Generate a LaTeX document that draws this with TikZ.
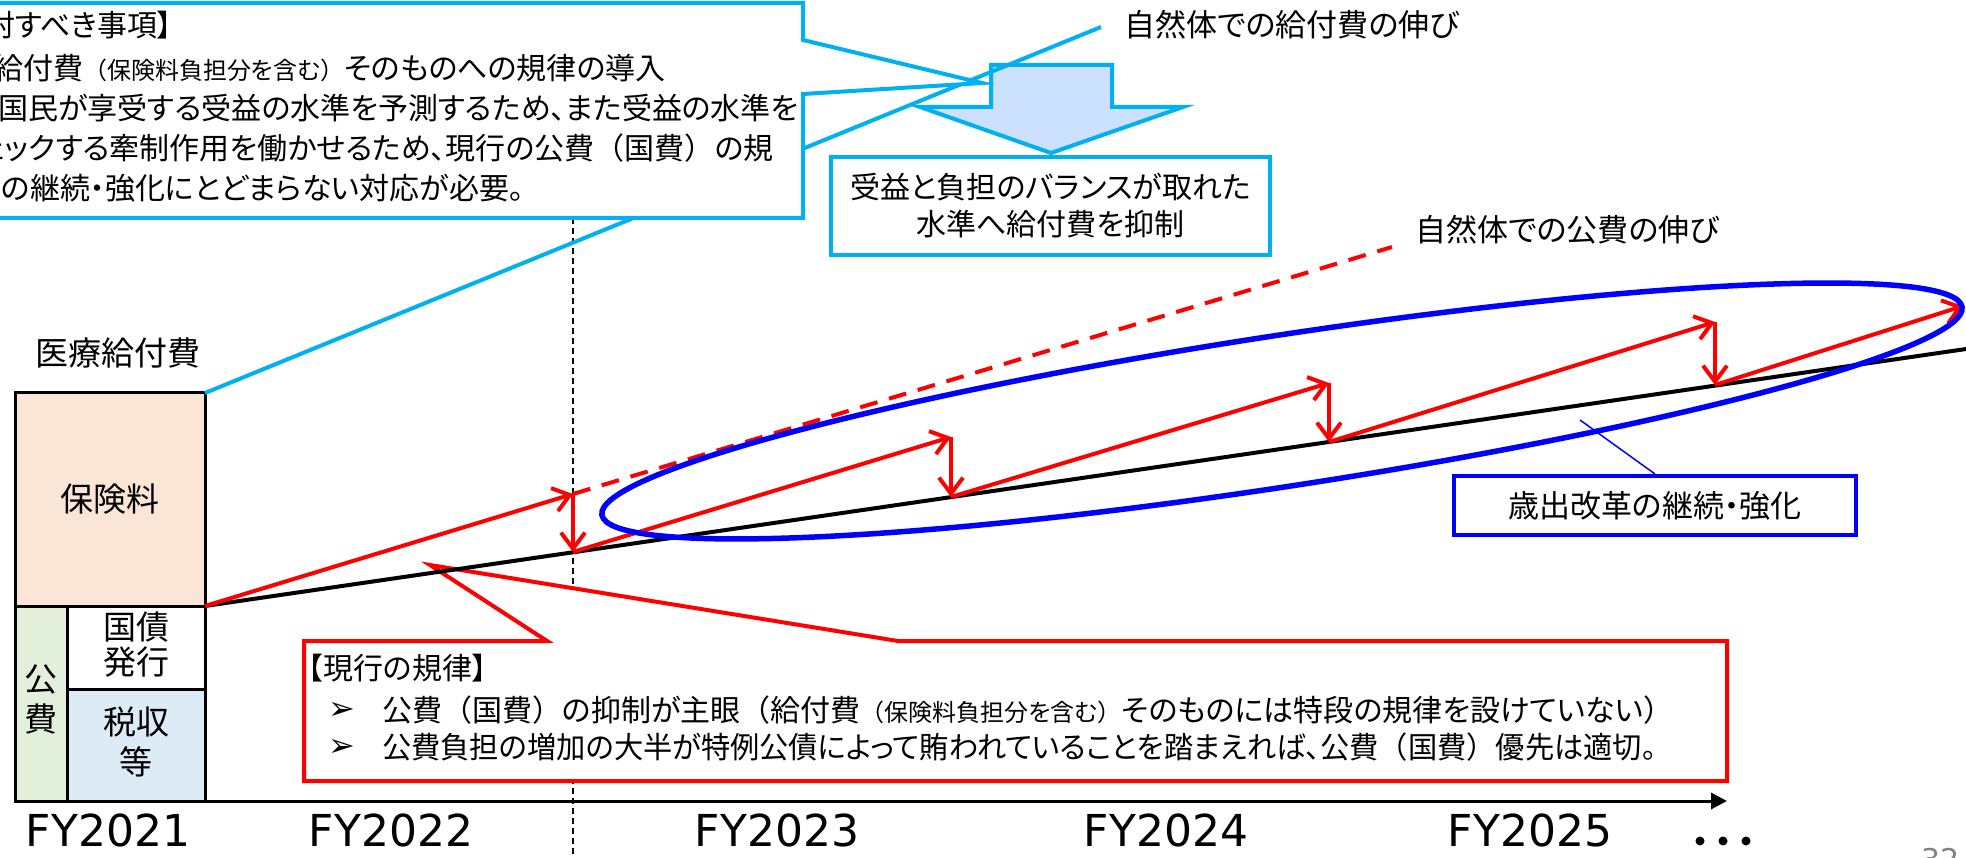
\documentclass[tikz,border=0pt]{standalone}
\usepackage{fontspec}
\setmainfont{Noto Sans CJK JP}[RawFeature=+palt]
\newfontfamily\jpfull{Noto Sans CJK JP}
\newfontfamily\dejavu{DejaVu Sans}
\usetikzlibrary{arrows.meta}
\definecolor{cyanb}{HTML}{00B0F0}
\definecolor{peach}{HTML}{FBE5D6}
\definecolor{lgreen}{HTML}{E2EFDA}
\definecolor{lblue}{HTML}{DDEBF7}
\definecolor{afill}{HTML}{CCE0FF}
\definecolor{pgray}{HTML}{808080}
\newcommand{\jfs}[2]{\fontsize{#1pt}{#2pt}\selectfont}
\newcommand{\jlp}{{\jpfull （}}
\newcommand{\jrp}{{\jpfull ）}}
\newcommand{\smallpar}{{\jfs{24}{34}\jlp 保険料負担分を含む\jrp}}
\begin{document}
\begin{tikzpicture}[x=1pt,y=-1pt,
  txt/.style={inner sep=0pt, font=\jfs{30}{36}},
  lbl/.style={inner sep=0pt, font=\jfs{33}{40}, align=center},
  fy/.style={inner sep=0pt, font=\dejavu\jfs{44}{50}},
  bx/.style={draw=black, line width=3pt, inner sep=0pt, outer sep=0pt, anchor=north west},
  redarr/.style={draw=red, line width=4pt, -{Straight Barb[length=16pt,width=24pt]}},
  bul/.style={inner sep=0pt, font=\dejavu\jfs{32}{36}},
]
\useasboundingbox (0,0) rectangle (1966,858);

% vertical dashed divider
\coordinate (vtop) at (573,218);
\coordinate (vbot) at (573,858);
\draw[line width=1.2pt, dash pattern=on 6pt off 4pt] (vtop) -- (vbot);

% big down arrow
\draw[cyanb, line width=4pt, fill=afill, line join=miter]
  (991,65) -- (1112,65) -- (1112,107) -- (1183,107) -- (1051,153) -- (920,107) -- (991,107) -- cycle;

% central box
\node[draw=cyanb, line width=4pt, fill=white, minimum width=439pt, minimum height=98pt,
      inner sep=0pt, align=center, font=\jfs{30}{37}] (bal) at (1050.5,206)
      {受益と負担のバランスが取れた\\水準へ給付費を抑制};

% label of natural growth of benefits
\node[inner sep=0pt, anchor=west, font=\jfs{31}{36}] (gl) at (1124,25) {自然体での給付費の伸び};

% left stacked boxes
\node[lbl] (title) at (118,353) {医療給付費};
\node[bx, fill=peach, minimum width=190pt, minimum height=213pt] (hoken) at (15,393) {};
\node[lbl] at (hoken.center) {保険料};
\node[bx, fill=lgreen, minimum width=52pt, minimum height=195pt] (kohi) at (15,606) {};
\node[lbl] at ([yshift=4pt]kohi.center) {公\\費};
\node[bx, fill=white, minimum width=138pt, minimum height=83pt] (kokusai) at (67,606) {};
\node[lbl, font=\jfs{33}{35}] at ([yshift=3pt]kokusai.center) {国債\\発行};
\node[bx, fill=lblue, minimum width=138pt, minimum height=112pt] (zei) at (67,689) {};
\node[lbl] at ([yshift=3pt]zei.center) {税収\\等};

% cyan connector from box to label
\draw[cyanb, line width=4pt] (hoken.north east) -- ([xshift=-23pt,yshift=-2pt]gl.west);

% cyan callout
\coordinate (ctip) at (982,83);
\draw[cyanb, line width=4pt, fill=white, line join=miter]
  (-60,3) -- (803,3) -- (803,40) -- (ctip) -- (803,94) -- (803,218) -- (-60,218) -- cycle;
\node[txt, anchor=west] (c1) at (15,25) {\llap{【今後検討}すべき事項】};
\node[txt, anchor=west] (c2) at (23,68) {\llap{給}付費\smallpar そのものへの規律の導入};
\node[txt, anchor=west] (c3) at (-2,108) {国民が享受する受益の水準を予測するため、また受益の水準を};
\node[txt, anchor=west] (c4) at (5,148) {\llap{チェ}ックする牽制作用を働かせるため、現行の公費\jlp 国費\jrp の規};
\node[txt, anchor=west] (c5) at (1,188) {\llap{律}の継続・強化にとどまらない対応が必要。};

% red callout
\coordinate (rtip) at (430,565);
\draw[red, line width=4pt, fill=white, line join=miter]
  (304,641) -- (547,641) -- (rtip) -- (898,641) -- (1727,641) -- (1727,781) -- (304,781) -- cycle;
\node[txt, anchor=west] (r0) at (308,668) {【現行の規律】};
\node[bul] (b1) at (342,711) {➢};
\node[txt, anchor=west] (r1) at (382,710) {公費\jlp 国費\jrp の抑制が主眼\jlp 給付費\smallpar そのものには特段の規律を設けていない\jrp};
\node[bul] (b2) at (342,748) {➢};
\node[txt, anchor=west] (r2) at (382,747) {\scalebox{0.975}[1]{公費負担の増加の大半が特例公債によって賄われていることを踏まえれば、公費\jlp 国費\jrp 優先は適切。}};

% growth points
\coordinate (b0) at (hoken.south east);
\coordinate (bend) at (1966,349);
\coordinate (t1) at (573,494);
\coordinate (q1) at (573,552);
\coordinate (t2) at (951,437);
\coordinate (q2) at (951,497);
\coordinate (t3) at (1329,383);
\coordinate (q3) at (1329,442);
\coordinate (t4) at (1715,322);
\coordinate (q4) at (1715,385);
\coordinate (t5) at (1963,306);
\coordinate (dend) at (1392,247);

% natural public expense (dashed)
\draw[red, line width=4pt, dash pattern=on 18pt off 12pt] (t1) -- (dend);
\node[inner sep=0pt, anchor=west, font=\jfs{31}{36}] (pl) at (1415,230) {自然体での公費の伸び};

% baseline
\draw[black, line width=4pt] (b0) -- (bend);

% red arrows
\draw[redarr] (b0) -- (t1);
\draw[redarr] (t1) -- (q1);
\draw[redarr] (q1) -- (t2);
\draw[redarr] (t2) -- (q2);
\draw[redarr] (q2) -- (t3);
\draw[redarr] (t3) -- (q3);
\draw[redarr] (q3) -- (t4);
\draw[redarr] (t4) -- (q4);
\draw[redarr] (q4) -- (t5);

% blue ellipse
\coordinate (ec) at (1282,411);
\draw[blue, line width=5.5pt, rotate around={8.69:(ec)}] (ec) ellipse [x radius=688, y radius=75.5];

% reform box
\node[draw=blue, line width=4pt, fill=white, minimum width=402pt, minimum height=59pt,
      inner sep=0pt, font=\jfs{31}{36}] (rev) at (1655,505.5) {歳出改革の継続・強化};
\coordinate (ept) at (1580,420);
\draw[blue, line width=1.5pt] (ept) -- (rev.north);

% axis
\coordinate (ax0) at (15,801);
\coordinate (ax1) at (1727,801);
\draw[line width=3pt, -{Triangle[length=16pt,width=16pt]}] (ax0) -- (ax1);

% year labels
\node[fy] (fy1) at (108,830) {FY2021};
\node[fy] (fy2) at (391,830) {FY2022};
\node[fy] (fy3) at (777,830) {FY2023};
\node[fy] (fy4) at (1166,830) {FY2024};
\node[fy] (fy5) at (1530,830) {FY2025};
\fill (1700,841) circle (4.5pt);
\fill (1723,841) circle (4.5pt);
\fill (1746,841) circle (4.5pt);

% page number (cut off)
\node[anchor=north west, inner sep=0pt, text=pgray, font=\dejavu\jfs{30}{36}] (pg) at (1921,848) {32};
\end{tikzpicture}
\end{document}
